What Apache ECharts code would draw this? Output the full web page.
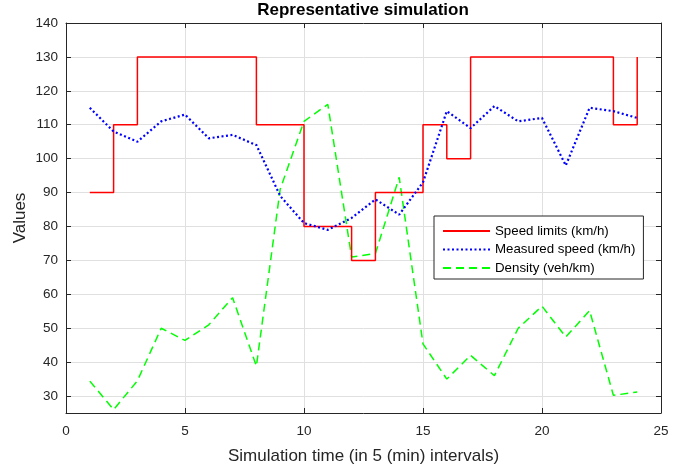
<!DOCTYPE html>
<html>
<head>
<meta charset="utf-8">
<script src="https://cdn.jsdelivr.net/npm/echarts@6/dist/echarts.min.js"></script>
<style>html,body{margin:0;padding:0;background:#fff;}#c{width:687px;height:470px;}</style>
</head>
<body>
<div id="c"></div>
<script>
const timeSteps = [1,2,3,4,5,6,7,8,9,10,11,12,13,14,15,16,17,18,19,20,21,22,23,24];
const speedLimits = [90,110,130,130,130,130,130,110,110,80,80,70,90,90,110,100,130,130,130,130,130,130,110,130];
const measuredSpeed = [115,108,105,111,113,106,107,104,89,81,79,82.5,88,83.5,93,114,109,115.5,111,112,98,115,114,112];
const density = [34.4,26,34.5,50,46.4,51,59,38.8,91,111,116,71,72,94.5,45.4,35,42,36,50,56.5,47.4,55.2,30.2,31.2];
const seriesNames = ['Speed limits (km/h)','Measured speed (km/h)','Density (veh/km)'];

const pairs = arr => timeSteps.map((t,i)=>[t,arr[i]]);
const FONT = 'Liberation Sans, Arial, Helvetica, sans-serif';
const AX = '#262626';

const chart = echarts.init(document.getElementById('c'), null, {renderer:'canvas'});
chart.setOption({
  animation:false,
  backgroundColor:'#fff',
  title:{text:'Representative simulation', left:363, textAlign:'center', top:2, padding:0,
    textStyle:{fontFamily:FONT,fontSize:17,fontWeight:'bold',color:'#000'}},
  grid:{left:66, right:26, top:23, bottom:57, containLabel:false},
  legend:{orient:'vertical', left:434, top:216,
    backgroundColor:'#fff', borderColor:'#262626', borderWidth:1,
    padding:[8,8,4,8], itemGap:4.5, itemWidth:47, itemHeight:14,
    itemStyle:{opacity:0},
    textStyle:{fontFamily:FONT,fontSize:13.3,color:'#000',lineHeight:14},
    data:seriesNames},
  xAxis:[{type:'value', min:0, max:25, interval:5, position:'bottom',
    name:'Simulation time (in 5 (min) intervals)', nameLocation:'middle', nameGap:35,
    nameTextStyle:{fontFamily:FONT,fontSize:17,color:AX},
    axisLine:{show:true,onZero:false,lineStyle:{color:AX,width:1}},
    axisTick:{show:true,inside:true,length:5,lineStyle:{color:AX}},
    axisLabel:{fontFamily:FONT,fontSize:13.5,color:AX,margin:11},
    splitLine:{show:true,lineStyle:{color:'#e0e0e0',width:1}}},
   {type:'value', min:0, max:25, interval:5, position:'top',
    axisLine:{show:true,onZero:false,lineStyle:{color:AX,width:1}},
    axisTick:{show:true,inside:true,length:5,lineStyle:{color:AX}},
    axisLabel:{show:false}, splitLine:{show:false}}],
  yAxis:[{type:'value', min:25, max:140, splitNumber:12, position:'left',
    name:'Values', nameLocation:'middle', nameGap:37, nameMoveOverlap:false,
    nameTextStyle:{fontFamily:FONT,fontSize:17,color:AX},
    axisLine:{show:true,onZero:false,lineStyle:{color:AX,width:1}},
    axisTick:{show:true,inside:true,length:5,lineStyle:{color:AX}},
    axisLabel:{fontFamily:FONT,fontSize:13.5,color:AX,margin:8,showMinLabel:false},
    splitLine:{show:true,lineStyle:{color:'#e0e0e0',width:1}}},
   {type:'value', min:25, max:140, splitNumber:12, position:'right',
    axisLine:{show:true,onZero:false,lineStyle:{color:AX,width:1}},
    axisTick:{show:true,inside:true,length:5,lineStyle:{color:AX}},
    axisLabel:{show:false}, splitLine:{show:false}}],
  series:[
    {name:seriesNames[0], type:'line', step:'end', symbol:'none', data:pairs(speedLimits),
     lineStyle:{color:'#ff0000',width:1.5}, itemStyle:{color:'#ff0000'}, z:3},
    {name:seriesNames[1], type:'line', symbol:'none', data:pairs(measuredSpeed),
     lineStyle:{color:'#0000ff',width:2.2,type:[2,2.5]}, itemStyle:{color:'#0000ff'}, z:4},
    {name:seriesNames[2], type:'line', symbol:'none', data:pairs(density),
     lineStyle:{color:'#00ff00',width:1.5,type:[8,5]}, itemStyle:{color:'#00ff00'}, z:2}
  ]
});
</script>
</body>
</html>
